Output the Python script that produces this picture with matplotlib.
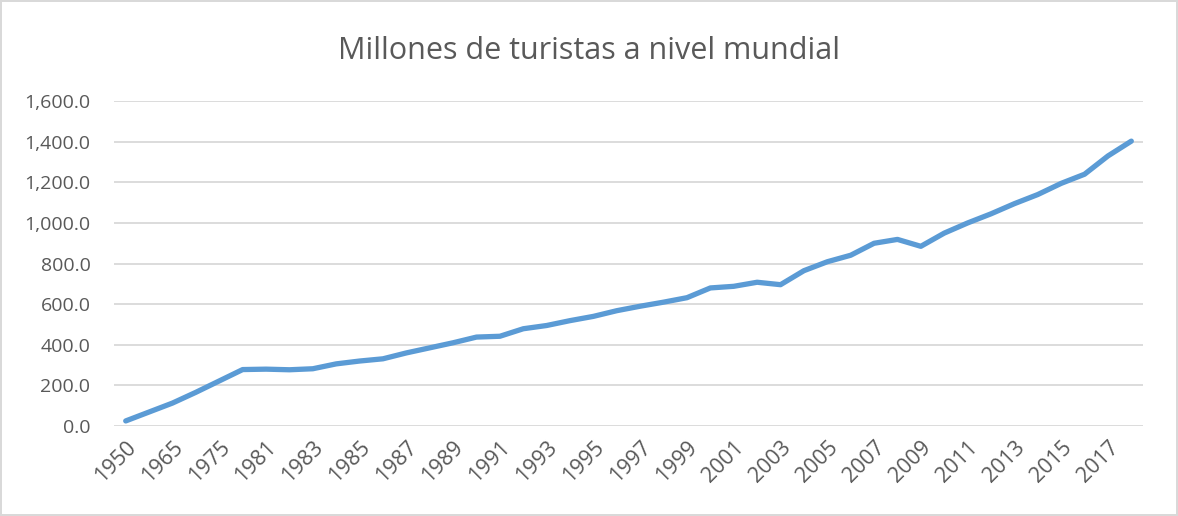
import numpy as np
import matplotlib.pyplot as plt
from matplotlib.ticker import FuncFormatter

years = ['1950', '1960', '1965', '1970', '1975', '1980'] + [str(y) for y in range(1981, 2019)]
tourists = [25, 69, 113, 166, 222, 278,
            280, 277, 282, 306, 320, 331, 360, 385, 410, 438,
            442, 479, 495, 519, 540, 568, 590, 610, 632, 680,
            688, 708, 696, 765, 809, 841, 900, 919, 885, 950,
            1000, 1045, 1095, 1140, 1195, 1240, 1330, 1403]

plt.rcParams['font.family'] = ['Open Sans', 'DejaVu Sans']
text_color = '#595959'

fig = plt.figure(figsize=(11.78, 5.16), dpi=100)
fig.patch.set_edgecolor('#D9D9D9')
fig.patch.set_linewidth(1.5)
ax = fig.add_axes([0.0968, 0.1744, 0.8735, 0.6296])

x = np.arange(len(years))
ax.plot(x, tourists, color='#5B9BD5', linewidth=3.8, solid_capstyle='round', solid_joinstyle='round')

ax.set_xlim(-0.5, len(years) - 0.5)
ax.set_ylim(0, 1600)
ax.set_yticks(np.arange(0, 1601, 200))
ax.yaxis.set_major_formatter(FuncFormatter(lambda v, p: f'{v:,.1f}'))
ax.grid(axis='y', color='#D9D9D9', linewidth=1.3)
ax.set_axisbelow(True)
for s in ax.spines.values():
    s.set_visible(False)

ax.set_xticks(x[::2])
ax.set_xticklabels(years[::2], rotation=45, ha='right', rotation_mode='anchor')
ax.tick_params(axis='both', length=0, labelcolor=text_color)
ax.tick_params(axis='y', pad=17, labelsize=14)
ax.tick_params(axis='x', pad=8, labelsize=15.5)

fig.suptitle('Millones de turistas a nivel mundial', y=0.93, fontsize=22, color=text_color)

fig.savefig('out.png', dpi=100, edgecolor=fig.get_edgecolor())
